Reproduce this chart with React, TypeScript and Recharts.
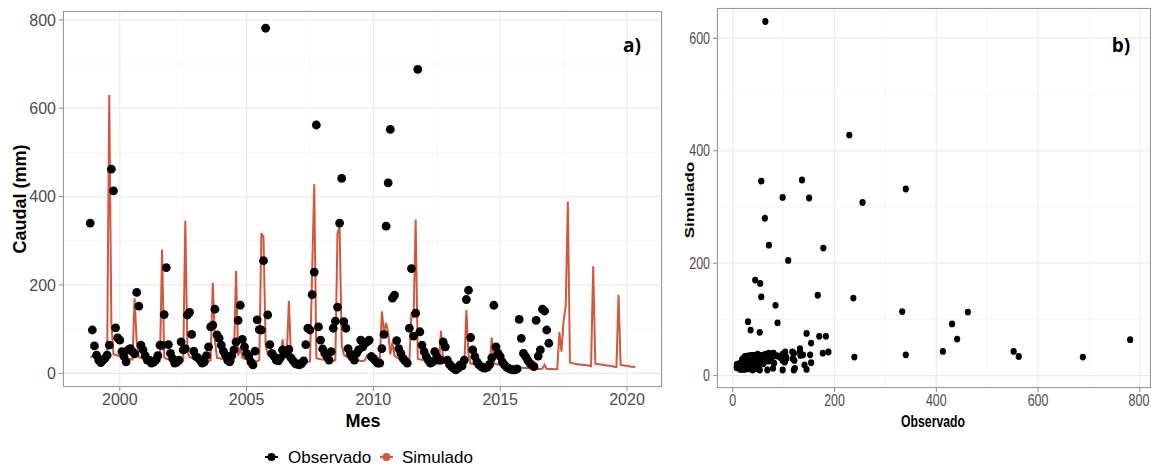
import React from 'react';
import {
  ComposedChart,
  ScatterChart,
  Line,
  Scatter,
  XAxis,
  YAxis,
  CartesianGrid,
  ReferenceLine,
} from 'recharts';

// ---------------- DATA ----------------
// Monthly series start in November 1998 (month index 0)
const START_YEAR = 1998;
const START_MONTH = 10; // 0-based: November

// Simulated monthly flow (mm), Nov 1998 – May 2020
const simulado: number[] = [
  37, 38, // 1998
  37, 36, 35, 34, 33, 32, 30, 630, 113, 43, 42, 40, // 1999
  38, 37, 35, 34, 33, 32, 31, 170, 70, 37, 35, 33, // 2000
  32, 31, 30, 29, 28, 27, 26, 28, 280, 36, 33, 32, // 2001
  31, 30, 29, 28, 27, 27, 28, 346, 48, 37, 35, 33, // 2002
  32, 31, 30, 29, 28, 28, 27, 30, 205, 75, 35, 34, // 2003
  33, 32, 31, 30, 29, 28, 27, 232, 40, 58, 35, 33, // 2004
  32, 31, 30, 29, 28, 27, 30, 317, 308, 64, 42, 38, // 2005
  36, 35, 33, 32, 31, 77, 38, 35, 164, 36, 33, 31, // 2006
  30, 29, 28, 27, 26, 26, 27, 227, 428, 34, 33, 32, // 2007
  31, 30, 30, 29, 29, 28, 30, 316, 332, 65, 42, 38, // 2008
  36, 34, 33, 31, 30, 29, 28, 28, 30, 40, 32, 30, // 2009
  28, 27, 26, 25, 140, 94, 114, 92, 43, 70, 40, 36, // 2010
  33, 31, 29, 27, 25, 24, 138, 125, 348, 33, 32, 30, // 2011
  29, 28, 27, 26, 25, 24, 23, 23, 96, 26, 25, 24, // 2012
  23, 22, 21, 20, 19, 18, 17, 17, 143, 42, 22, 21, // 2013
  20, 19, 18, 17, 16, 15, 15, 15, 81, 23, 21, 20, // 2014
  19, 18, 17, 16, 16, 15, 15, 14, 14, 13, 13, 12, // 2015
  12, 12, 11, 11, 11, 10, 10, 10, 11, 19, 10, 10, // 2016
  10, 10, 9, 9, 93, 49, 120, 150, 389, 24, 23, 22, // 2017
  21, 20, 20, 19, 19, 18, 17, 16, 242, 22, 21, 20, // 2018
  20, 19, 18, 17, 17, 16, 15, 14, 177, 19, 18, 17, // 2019
  17, 16, 15, 15, 14, // 2020
];

// Observed monthly flow (mm), Nov 1998 – Dec 2016
const observado: number[] = [
  340, 98, // 1998
  62, 41, 30, 24, 30, 34, 41, 64, 462, 413, 103, 80, // 1999
  75, 49, 38, 26, 53, 56, 49, 44, 183, 152, 64, 53, // 2000
  40, 30, 30, 23, 25, 30, 40, 64, 63, 133, 239, 65, // 2001
  45, 33, 23, 25, 30, 71, 53, 56, 132, 138, 88, 50, // 2002
  38, 35, 30, 23, 26, 40, 60, 105, 109, 145, 87, 79, // 2003
  64, 50, 41, 30, 26, 40, 53, 71, 120, 154, 77, 60, // 2004
  45, 38, 26, 19, 50, 121, 99, 98, 255, 781, 132, 65, // 2005
  45, 38, 30, 28, 35, 53, 49, 44, 54, 35, 28, 22, // 2006
  20, 19, 22, 28, 65, 102, 98, 178, 229, 562, 105, 75, // 2007
  55, 45, 38, 30, 49, 102, 118, 150, 340, 441, 117, 102, // 2008
  56, 44, 36, 30, 45, 53, 75, 60, 68, 71, 75, 38, // 2009
  34, 28, 23, 23, 56, 88, 333, 431, 552, 170, 177, 74, // 2010
  56, 45, 34, 28, 23, 102, 237, 84, 136, 688, 94, 64, // 2011
  49, 38, 30, 23, 26, 49, 38, 30, 30, 71, 60, 30, // 2012
  20, 15, 11, 8, 11, 19, 17, 30, 167, 188, 81, 53, // 2013
  38, 26, 19, 15, 12, 12, 14, 20, 35, 154, 60, 45, // 2014
  38, 26, 19, 14, 11, 9, 8, 8, 10, 122, 79, 45, // 2015
  38, 30, 23, 19, 15, 120, 39, 53, 145, 141, 98, 68, // 2016
];

const yearTicks = [2000, 2005, 2010, 2015, 2020];
const yearMinor = [2002.5, 2007.5, 2012.5, 2017.5];
const caudalTicks = [0, 200, 400, 600, 800];
const caudalMinor = [100, 300, 500, 700];
const obsTicks = [0, 200, 400, 600, 800];
const obsMinor = [100, 300, 500, 700];
const simTicks = [0, 200, 400, 600];
const simMinor = [100, 300, 500];

// derived tables
const monthTime = (i: number) => START_YEAR + (START_MONTH + i) / 12;
const seriesData = simulado.map((s, i) => ({ t: monthTime(i), sim: s }));
const obsData = observado.map((o, i) => ({ t: monthTime(i), obs: o }));
const pairData = observado.map((o, i) => ({ x: o, y: simulado[i] }));

// ---------------- STYLE ----------------
const FONT = "'Liberation Sans', Arial, Helvetica, sans-serif";
const RED = '#d4573b';
const TICK_COLOR = '#4d4d4d';
const GRID_MAJOR = '#ebebeb';
const GRID_MINOR = '#f5f5f5';
const BORDER = '#9a9a9a';
const SQUEEZE = 0.78; // panel b) is horizontally compressed in the original figure

const bigDot = (p: any) => <circle cx={p.cx} cy={p.cy} r={4.4} fill="#000" />;
const smallDot = (p: any) => <ellipse cx={p.cx} cy={p.cy} rx={3.1} ry={3.4} fill="#000" />;

const NarrowXTick = (p: any) => (
  <g transform={`translate(${p.x},${p.y})`}>
    <text transform={`scale(${SQUEEZE},1)`} textAnchor="middle" dy="0.71em" fill={TICK_COLOR}
      fontSize={16} fontFamily={FONT}>{p.payload.value}</text>
  </g>
);
const NarrowYTick = (p: any) => (
  <g transform={`translate(${p.x},${p.y})`}>
    <text transform={`scale(${SQUEEZE},1)`} textAnchor="end" dy="0.355em" fill={TICK_COLOR}
      fontSize={16} fontFamily={FONT}>{p.payload.value}</text>
  </g>
);

const abs = (s: React.CSSProperties): React.CSSProperties => ({ position: 'absolute', ...s });

export default function App() {
  return (
    <div style={abs({ left: 0, top: 0, width: 1151, height: 468, background: '#fff', overflow: 'hidden' })}>
      {/* Panel a) */}
      <div style={abs({ left: 0, top: 0 })}>
        <ComposedChart
          width={670}
          height={420}
          data={seriesData}
          margin={{ top: 11, right: 8, bottom: 8, left: 23 }}
        >
          <CartesianGrid stroke={GRID_MAJOR} strokeWidth={1.2} />
          {yearMinor.map((v) => (
            <ReferenceLine key={'xm' + v} x={v} stroke={GRID_MINOR} strokeWidth={0.8} />
          ))}
          {caudalMinor.map((v) => (
            <ReferenceLine key={'ym' + v} y={v} stroke={GRID_MINOR} strokeWidth={0.8} />
          ))}
          <XAxis
            type="number"
            dataKey="t"
            domain={[1997.76, 2021.38]}
            allowDataOverflow
            ticks={yearTicks}
            axisLine={false}
            tickLine={{ stroke: '#8a8a8a' }}
            tickSize={4}
            tickMargin={3}
            height={25}
            tick={{ fill: TICK_COLOR, fontSize: 16, fontFamily: FONT }}
          />
          <YAxis
            type="number"
            domain={[-31, 820]}
            allowDataOverflow
            ticks={caudalTicks}
            axisLine={false}
            tickLine={{ stroke: '#8a8a8a' }}
            tickSize={4}
            tickMargin={3}
            width={40}
            tick={{ fill: TICK_COLOR, fontSize: 16, fontFamily: FONT }}
          />
          <Line
            type="linear"
            dataKey="sim"
            stroke={RED}
            strokeWidth={2}
            dot={false}
            isAnimationActive={false}
          />
          <Scatter data={obsData} dataKey="obs" shape={bigDot} isAnimationActive={false} />
        </ComposedChart>
      </div>
      <div
        style={abs({ left: 63, top: 11, width: 599, height: 376, border: `1.5px solid ${BORDER}`, boxSizing: 'border-box', pointerEvents: 'none' })}
      />

      {/* Panel b) */}
      <div style={abs({ left: 670, top: 0 })}>
        <ScatterChart width={481} height={430} margin={{ top: 8, right: 1, bottom: 17, left: 7 }}>
          <CartesianGrid stroke={GRID_MAJOR} strokeWidth={1.2} />
          {obsMinor.map((v) => (
            <ReferenceLine key={'bx' + v} x={v} stroke={GRID_MINOR} strokeWidth={0.8} />
          ))}
          {simMinor.map((v) => (
            <ReferenceLine key={'by' + v} y={v} stroke={GRID_MINOR} strokeWidth={0.8} />
          ))}
          <XAxis
            type="number"
            dataKey="x"
            domain={[-31, 820]}
            allowDataOverflow
            ticks={obsTicks}
            axisLine={false}
            tickLine={{ stroke: '#8a8a8a' }}
            tickSize={4}
            tickMargin={3}
            height={25}
            tick={NarrowXTick}
          />
          <YAxis
            type="number"
            dataKey="y"
            domain={[-22, 654]}
            allowDataOverflow
            ticks={simTicks}
            axisLine={false}
            tickLine={{ stroke: '#8a8a8a' }}
            tickSize={4}
            tickMargin={3}
            width={40}
            tick={NarrowYTick}
          />
          <Scatter data={pairData} shape={smallDot} isAnimationActive={false} />
        </ScatterChart>
      </div>
      <div
        style={abs({ left: 717, top: 8, width: 434, height: 380, border: `1.5px solid ${BORDER}`, boxSizing: 'border-box', pointerEvents: 'none' })}
      />

      {/* Titles and labels */}
      <svg width={1151} height={468} style={abs({ left: 0, top: 0, pointerEvents: 'none' })}>
        <text x={20} y={199} transform="rotate(-90 20 199)" textAnchor="middle" dominantBaseline="central"
          fontFamily={FONT} fontWeight="bold" fontSize={18} fill="#000">Caudal (mm)</text>
        <text x={363} y={421} textAnchor="middle" dominantBaseline="central"
          fontFamily={FONT} fontWeight="bold" fontSize={18} fill="#000">Mes</text>
        <text x={632} y={45} textAnchor="middle" dominantBaseline="central"
          fontFamily="'Open Sans', 'Noto Sans', sans-serif" fontWeight="bold" fontSize={19} fill="#000">a)</text>
        <text x={1121} y={45} textAnchor="middle" dominantBaseline="central"
          fontFamily="'Open Sans', 'Noto Sans', sans-serif" fontWeight="bold" fontSize={19} fill="#000">b)</text>
        <g transform="translate(689,200) rotate(-90) scale(1,0.78)">
          <text x={0} y={0} textAnchor="middle" dominantBaseline="central"
            fontFamily={FONT} fontWeight="bold" fontSize={17} fill="#000">Simulado</text>
        </g>
        <g transform={`translate(933,421) scale(${0.72},1)`}>
          <text x={0} y={0} textAnchor="middle" dominantBaseline="central"
            fontFamily={FONT} fontWeight="bold" fontSize={17} fill="#000">Observado</text>
        </g>

        {/* legend */}
        <line x1={265} x2={278} y1={457} y2={457} stroke="#000" strokeWidth={2} />
        <circle cx={271.5} cy={457} r={4} fill="#000" />
        <text x={288} y={457} dominantBaseline="central" fontFamily={FONT} fontSize={17} fill="#000">Observado</text>
        <line x1={380} x2={393} y1={457} y2={457} stroke={RED} strokeWidth={2} />
        <circle cx={386.5} cy={457} r={4} fill={RED} />
        <text x={402} y={457} dominantBaseline="central" fontFamily={FONT} fontSize={17} fill="#000">Simulado</text>
      </svg>
    </div>
  );
}
